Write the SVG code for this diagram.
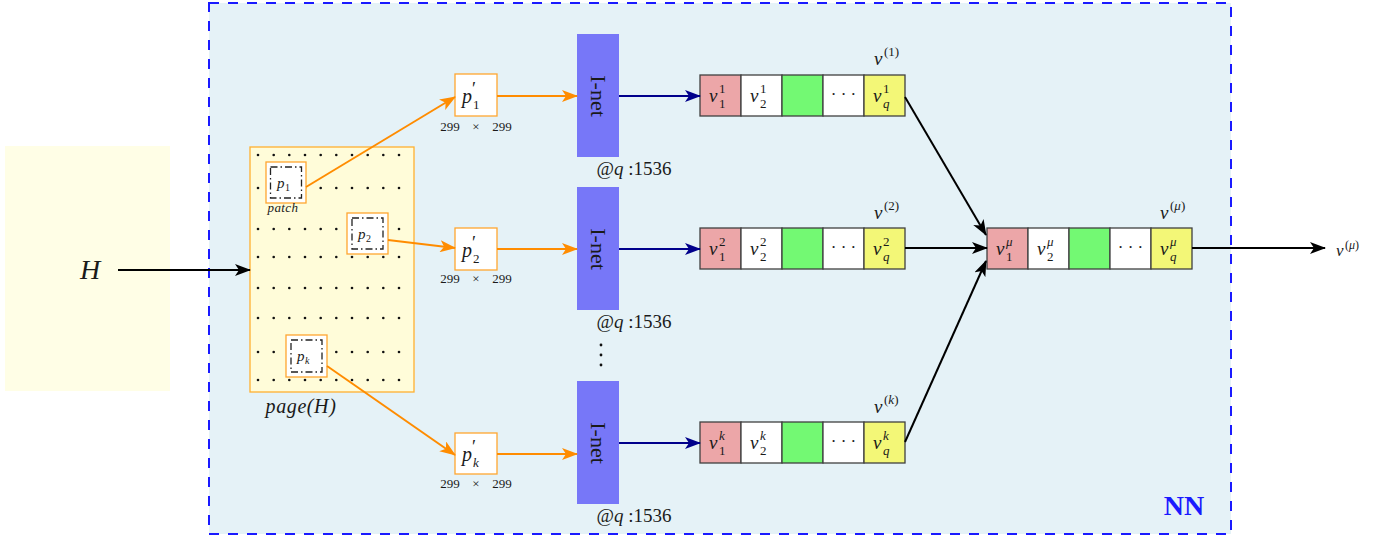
<svg xmlns="http://www.w3.org/2000/svg" width="1395" height="539" viewBox="0 0 1395 539">
<style>
.t{font-family:"Liberation Serif","DejaVu Serif",serif;fill:#1a1a1a}
.m{font-family:"Liberation Serif","DejaVu Serif",serif;font-style:italic;fill:#1a1a1a}
.cell{stroke:#404040;stroke-width:1.3}
.pb{fill:#fff;stroke:#ffa630;stroke-width:1.3}
.inner{fill:none;stroke:#222;stroke-width:1.3;stroke-dasharray:7,3,1.5,3}
.ao{stroke:#ff8c00;stroke-width:2;fill:none;marker-end:url(#mo)}
.an{stroke:#00008b;stroke-width:2;fill:none;marker-end:url(#mn)}
.ak{stroke:#000;stroke-width:2;fill:none;marker-end:url(#mk)}
.inet{fill:#7777f8}
.dim{font-family:"Liberation Serif","DejaVu Serif",serif;fill:#1a1a1a;font-size:13px;text-anchor:middle}
.at{font-family:"Liberation Serif","DejaVu Serif",serif;fill:#1a1a1a;font-size:19px}
</style>
<defs>
<marker id="mk" viewBox="0 0 16 12" refX="15" refY="6" markerWidth="16" markerHeight="12" markerUnits="userSpaceOnUse" orient="auto"><path d="M0,0 L16,6 L0,12 L4,6 z" fill="#000"/></marker>
<marker id="mo" viewBox="0 0 16 12" refX="15" refY="6" markerWidth="16" markerHeight="12" markerUnits="userSpaceOnUse" orient="auto"><path d="M0,0 L16,6 L0,12 L4,6 z" fill="#ff8c00"/></marker>
<marker id="mn" viewBox="0 0 16 12" refX="15" refY="6" markerWidth="16" markerHeight="12" markerUnits="userSpaceOnUse" orient="auto"><path d="M0,0 L16,6 L0,12 L4,6 z" fill="#00008b"/></marker>
<g id="dots" fill="#111">
<circle cx="258" cy="0" r="1.3"/><circle cx="273.7" cy="0" r="1.3"/><circle cx="289.3" cy="0" r="1.3"/><circle cx="305" cy="0" r="1.3"/><circle cx="320.7" cy="0" r="1.3"/><circle cx="336.3" cy="0" r="1.3"/><circle cx="352" cy="0" r="1.3"/><circle cx="367.7" cy="0" r="1.3"/><circle cx="383.3" cy="0" r="1.3"/><circle cx="399" cy="0" r="1.3"/>
</g>
<g id="vecrow">
<rect class="cell" x="0" y="0" width="41" height="41" fill="#eca6a8"/>
<rect class="cell" x="41" y="0" width="41" height="41" fill="#fff"/>
<rect class="cell" x="82" y="0" width="41" height="41" fill="#73f973"/>
<rect class="cell" x="123" y="0" width="41" height="41" fill="#fff"/>
<rect class="cell" x="164" y="0" width="41" height="41" fill="#f3f777"/>
<text class="t" x="143.5" y="25" font-size="17" text-anchor="middle">· · ·</text>
</g>
<g id="dim">
<text class="dim" x="-26" y="0">299</text><text class="dim" x="0" y="0">×</text><text class="dim" x="26" y="0">299</text>
</g>
</defs>

<rect id="bg-h" x="5" y="146" width="165" height="245" fill="#fffee6"/>
<g id="nn">
<rect x="209" y="3" width="1022" height="531" fill="#e5f2f7" stroke="#1a1aff" stroke-width="2" stroke-dasharray="10,9"/>
<text x="1184" y="515" font-family="Liberation Serif, DejaVu Serif, serif" font-weight="bold" font-size="28" fill="#1a1aff" text-anchor="middle">NN</text>
</g>

<g id="H"><text class="m" x="90" y="279" font-size="28" text-anchor="middle">H</text></g>

<g id="page">
<rect x="250" y="147" width="164" height="245" fill="#fffcd9" stroke="#ffb030" stroke-width="1.3"/>
<use href="#dots" y="155"/><use href="#dots" y="188"/><use href="#dots" y="229"/><use href="#dots" y="257"/>
<use href="#dots" y="288"/><use href="#dots" y="318"/><use href="#dots" y="352"/><use href="#dots" y="380"/>
<text class="m" x="301" y="413" font-size="20" letter-spacing="0.6" text-anchor="middle">page(H)</text>
</g>
<g id="patch1">
<rect class="pb" x="266" y="162" width="40" height="41"/>
<rect class="inner" x="270.5" y="167" width="31" height="31"/>
<text class="m" x="277" y="188" font-size="15">p</text><text class="t" x="285" y="191" font-size="10">1</text>
<text class="m" x="283" y="212" font-size="13" fill="#333" letter-spacing="0.4" text-anchor="middle">patch</text>
</g>
<g id="patch2">
<rect class="pb" x="347" y="213" width="41" height="41"/>
<rect class="inner" x="352" y="218" width="31" height="31"/>
<text class="m" x="358" y="239" font-size="15">p</text><text class="t" x="366" y="242" font-size="10">2</text>
</g>
<g id="patchk">
<rect class="pb" x="286" y="335" width="41" height="42"/>
<rect class="inner" x="291" y="340" width="31" height="32"/>
<text class="m" x="297" y="361" font-size="15">p</text><text class="m" x="305" y="364" font-size="10">k</text>
</g>

<g id="pp1">
<rect class="pb" x="455" y="74" width="42" height="42"/>
<text class="m" x="462" y="103" font-size="20">p</text><text class="t" x="472" y="95" font-size="18">′</text><text class="t" x="473" y="109" font-size="13">1</text>
<use href="#dim" x="476" y="131"/>
</g>
<g id="pp2">
<rect class="pb" x="455" y="228" width="42" height="42"/>
<text class="m" x="462" y="257" font-size="20">p</text><text class="t" x="472" y="249" font-size="18">′</text><text class="t" x="473" y="263" font-size="13">2</text>
<use href="#dim" x="476" y="283"/>
</g>
<g id="ppk">
<rect class="pb" x="455" y="433" width="42" height="41"/>
<text class="m" x="462" y="461" font-size="20">p</text><text class="t" x="472" y="453" font-size="18">′</text><text class="m" x="473" y="467" font-size="13">k</text>
<use href="#dim" x="476" y="488"/>
</g>

<g id="inet1"><rect class="inet" x="577" y="34" width="42" height="123"/><text class="t" x="598" y="96" font-size="22" text-anchor="middle" dominant-baseline="central" transform="rotate(90 598 96)">I-net</text>
<text class="at" x="634" y="175" text-anchor="middle">@<tspan font-style="italic">q</tspan> :1536</text></g>
<g id="inet2"><rect class="inet" x="577" y="187" width="42" height="123"/><text class="t" x="598" y="249" font-size="22" text-anchor="middle" dominant-baseline="central" transform="rotate(90 598 249)">I-net</text>
<text class="at" x="634" y="328" text-anchor="middle">@<tspan font-style="italic">q</tspan> :1536</text></g>
<g id="inetk"><rect class="inet" x="577" y="381" width="42" height="123"/><text class="t" x="598" y="443" font-size="22" text-anchor="middle" dominant-baseline="central" transform="rotate(90 598 443)">I-net</text>
<text class="at" x="634" y="522" text-anchor="middle">@<tspan font-style="italic">q</tspan> :1536</text></g>
<g id="vdots" fill="#111"><circle cx="601" cy="345" r="1.4"/><circle cx="601" cy="355" r="1.4"/><circle cx="601" cy="365" r="1.4"/></g>

<g id="v1">
<use href="#vecrow" x="700" y="75"/>
<text class="m" x="709" y="102" font-size="19">v</text><text class="t" x="719" y="93" font-size="13">1</text><text class="t" x="719" y="108" font-size="13">1</text>
<text class="m" x="750" y="102" font-size="19">v</text><text class="t" x="760" y="93" font-size="13">1</text><text class="t" x="760" y="108" font-size="13">2</text>
<text class="m" x="873" y="102" font-size="19">v</text><text class="t" x="883" y="93" font-size="13">1</text><text class="m" x="883" y="108" font-size="13">q</text>
<text class="m" x="874" y="65" font-size="19">v</text><text class="t" x="884" y="56" font-size="13">(1)</text>
</g>
<g id="v2">
<use href="#vecrow" x="700" y="228"/>
<text class="m" x="709" y="255" font-size="19">v</text><text class="t" x="719" y="246" font-size="13">2</text><text class="t" x="719" y="261" font-size="13">1</text>
<text class="m" x="750" y="255" font-size="19">v</text><text class="t" x="760" y="246" font-size="13">2</text><text class="t" x="760" y="261" font-size="13">2</text>
<text class="m" x="873" y="255" font-size="19">v</text><text class="t" x="883" y="246" font-size="13">2</text><text class="m" x="883" y="261" font-size="13">q</text>
<text class="m" x="874" y="219" font-size="19">v</text><text class="t" x="884" y="210" font-size="13">(2)</text>
</g>
<g id="vk">
<use href="#vecrow" x="700" y="422"/>
<text class="m" x="709" y="449" font-size="19">v</text><text class="m" x="719" y="440" font-size="13">k</text><text class="t" x="719" y="455" font-size="13">1</text>
<text class="m" x="750" y="449" font-size="19">v</text><text class="m" x="760" y="440" font-size="13">k</text><text class="t" x="760" y="455" font-size="13">2</text>
<text class="m" x="873" y="449" font-size="19">v</text><text class="m" x="883" y="440" font-size="13">k</text><text class="m" x="883" y="455" font-size="13">q</text>
<text class="m" x="874" y="413" font-size="19">v</text><text class="t" x="884" y="404" font-size="13">(<tspan font-style="italic">k</tspan>)</text>
</g>
<g id="vmu">
<use href="#vecrow" x="987" y="228"/>
<text class="m" x="996" y="255" font-size="19">v</text><text class="m" x="1006" y="246" font-size="13">μ</text><text class="t" x="1006" y="261" font-size="13">1</text>
<text class="m" x="1037" y="255" font-size="19">v</text><text class="m" x="1047" y="246" font-size="13">μ</text><text class="t" x="1047" y="261" font-size="13">2</text>
<text class="m" x="1160" y="255" font-size="19">v</text><text class="m" x="1170" y="246" font-size="13">μ</text><text class="m" x="1170" y="261" font-size="13">q</text>
<text class="m" x="1160" y="219" font-size="19">v</text><text class="t" x="1170" y="210" font-size="13">(<tspan font-style="italic">μ</tspan>)</text>
</g>
<g id="out"><text class="m" x="1336" y="256" font-size="17">v</text><text class="t" x="1345" y="249" font-size="12">(<tspan font-style="italic">μ</tspan>)</text></g>

<g id="connectors">
<line class="ak" x1="118" y1="270" x2="250" y2="270"/>
<line class="ao" x1="306" y1="187" x2="455" y2="97"/>
<line class="ao" x1="388" y1="240" x2="455" y2="248"/>
<line class="ao" x1="327" y1="366" x2="455" y2="455"/>
<line class="ao" x1="497" y1="96" x2="577" y2="96"/>
<line class="ao" x1="497" y1="249" x2="577" y2="249"/>
<line class="ao" x1="497" y1="454" x2="577" y2="454"/>
<line class="an" x1="619" y1="96" x2="700" y2="96"/>
<line class="an" x1="619" y1="249" x2="700" y2="249"/>
<line class="an" x1="619" y1="443" x2="700" y2="443"/>
<line class="ak" x1="905" y1="97" x2="986" y2="235"/>
<line class="ak" x1="905" y1="248" x2="987" y2="248"/>
<line class="ak" x1="905" y1="442" x2="986" y2="261"/>
<line class="ak" x1="1192" y1="248" x2="1325" y2="248"/>
</g>
</svg>
